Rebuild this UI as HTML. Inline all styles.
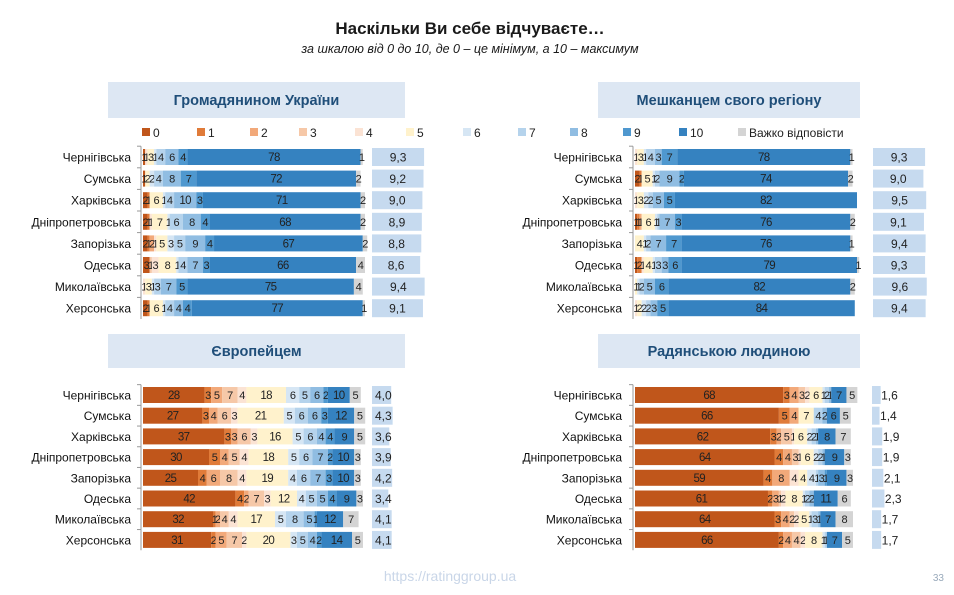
<!DOCTYPE html>
<html><head><meta charset="utf-8">
<style>
body{margin:0;background:#fff;width:954px;height:595px;overflow:hidden;position:relative;font-family:"Liberation Sans","DejaVu Sans",sans-serif;}
svg{position:absolute;left:0;top:0}
</style></head>
<body>
<svg id="chart" width="954" height="595">
<text x="470" y="34" text-anchor="middle" font-size="17" font-weight="bold" fill="#1a1a1a">Наскільки Ви себе відчуваєте…</text>
<text x="470" y="53" text-anchor="middle" font-size="12.5" font-style="italic" fill="#1a1a1a">за шкалою від 0 до 10, де 0 – це мінімум, а 10 – максимум</text>
<g id="legend"></g>
<text x="450" y="581" text-anchor="middle" font-size="14" fill="#c9d6e8">https://ratinggroup.ua</text>
<text x="944" y="581" text-anchor="end" font-size="10" fill="#9ab">33</text>
</svg>
<script>
const regions=["Чернігівська","Сумська","Харківська","Дніпропетровська","Запорізька","Одеська","Миколаївська","Херсонська"];
const legendLabels=["0","1","2","3","4","5","6","7","8","9","10","Важко відповісти"];
const citizen=[[1,0,0,0,1,3,1,4,6,4,78,1],[1,0,0,0,0,2,2,4,8,7,72,2],[2,1,0,0,0,6,1,4,10,3,71,2],[2,1,0,0,1,7,1,6,8,4,68,2],[2,1,2,0,1,5,3,5,9,4,67,2],[3,0,0,1,3,8,1,4,7,3,66,4],[0,0,0,0,1,3,1,3,7,5,75,4],[2,1,0,0,0,6,1,4,4,4,77,1]];
const citizenMean=[9.3,9.2,9.0,8.9,8.8,8.6,9.4,9.1];
const resident=[[0,0,0,0,1,3,1,4,3,7,78,1],[2,1,0,0,0,5,1,2,9,2,74,2],[0,0,0,0,1,3,2,2,5,5,82,0],[1,1,1,0,0,6,1,1,7,3,76,2],[0,0,0,0,0,4,1,2,7,7,76,1],[1,2,0,0,1,4,1,3,3,6,79,1],[0,0,0,0,0,1,1,2,5,6,82,2],[0,0,0,0,1,2,2,2,3,5,84,0]];
const residentMean=[9.3,9.0,9.5,9.1,9.4,9.3,9.6,9.4];
const european=[[28,3,5,7,4,18,6,5,6,2,10,5],[27,3,4,6,3,21,5,6,6,3,12,5],[37,3,3,6,3,16,5,6,4,4,9,5],[30,5,4,5,4,18,5,6,7,2,10,3],[25,4,6,8,4,19,4,6,7,3,10,3],[42,4,2,7,3,12,4,5,5,4,9,3],[32,1,2,4,4,17,5,8,5,1,12,7],[31,2,5,7,2,20,3,5,4,2,14,5]];
const europeanMean=[4.0,4.3,3.6,3.9,4.2,3.4,4.1,4.1];
const soviet=[[68,3,4,3,2,6,1,2,1,0,7,5],[66,5,4,0,0,7,0,4,2,0,6,5],[62,3,2,5,1,6,2,2,1,0,8,7],[64,4,4,3,1,6,2,2,1,0,9,3],[59,4,8,0,4,4,4,1,3,1,9,3],[61,2,3,1,2,8,1,2,2,0,11,6],[64,3,4,2,2,5,1,3,1,0,7,8],[66,2,4,4,2,8,1,1,0,0,7,5]];
const sovietMean=[1.6,1.4,1.9,1.9,2.1,2.3,1.7,1.7];

const colors=["#c0561b","#e07b39","#f2a97a","#f6c8a8","#fbe3d4","#fff2cc","#d6e6f4","#b5d3ec","#90bde2","#4f98cf","#3582c0","#d4d4d4"];
const svg=document.getElementById('chart');
const NS="http://www.w3.org/2000/svg";
function mk(tag,attrs,parent){const e=document.createElementNS(NS,tag);for(const k in attrs)e.setAttribute(k,attrs[k]);(parent||svg).appendChild(e);return e;}

const legX=[142,197,250,299,355,406,463,518,570,623,679,738];
const lg=document.getElementById('legend');
legendLabels.forEach((l,i)=>{
  const r=mk('rect',{x:legX[i],y:128,width:8,height:8,fill:colors[i]},lg);
  
  
  const t=mk('text',{x:legX[i]+11,y:137,'font-size':12,fill:'#222'},lg);
  t.textContent=l;
  
  
});

const panels=[
 {title:"Громадянином України",data:citizen,mean:citizenMean,box:[108,82,297,36],lx:131,bx:143,bw:222,y0:157,step:21.6,bh:16,mx:372,ms:5.6,name:'citizen'},
 {title:"Мешканцем свого регіону",data:resident,mean:residentMean,box:[598,82,262,36],lx:622,bx:635,bw:222,y0:157,step:21.6,bh:16,mx:873,ms:5.6,name:'resident'},
 {title:"Європейцем",data:european,mean:europeanMean,box:[108,334,297,34],lx:131,bx:143,bw:220,y0:395,step:20.7,bh:16,mx:372,ms:4.8,name:'european'},
 {title:"Радянською людиною",data:soviet,mean:sovietMean,box:[598,334,262,34],lx:622,bx:635,bw:218,y0:395,step:20.7,bh:16,mx:872,ms:5.4,name:'soviet'}
];
panels.forEach(p=>{
  const g=mk('g',{});
  
  
  const hb=mk('rect',{x:p.box[0],y:p.box[1],width:p.box[2],height:p.box[3],fill:'#dde7f3'},g);
  
  
  const ht=mk('text',{x:p.box[0]+p.box[2]/2,y:p.box[1]+p.box[3]/2+5,'text-anchor':'middle','font-size':14.5,'font-weight':'bold',fill:'#1f4e79'},g);
  ht.textContent=p.title;
  
  
  const n=regions.length;
  const axis=mk('line',{x1:p.bx-2,x2:p.bx-2,y1:p.y0-p.step/2,y2:p.y0+(n-0.5)*p.step,stroke:'#999','stroke-width':1},g);
  
  
  const xs=v=>v/100*p.bw;
  regions.forEach((reg,ri)=>{
    const cy=p.y0+ri*p.step;
    const tk=mk('line',{x1:p.bx-6,x2:p.bx-2,y1:cy-p.step/2,y2:cy-p.step/2,stroke:'#999'},g);
    
    
    const lt=mk('text',{x:p.lx,y:cy+4.5,'text-anchor':'end','font-size':12,fill:'#111'},g);
    lt.textContent=reg;
    
    
    let x=p.bx;
    p.data[ri].forEach((v,ci)=>{
      if(v<=0)return;
      const w=xs(v);
      const r=mk('rect',{x:x,y:cy-p.bh/2,width:w,height:p.bh,fill:colors[ci]},g);
      
      
      const t=mk('text',{x:x+w/2,y:cy+4,'text-anchor':'middle','font-size':v>=10?11.5:11,fill:'#222','letter-spacing':'-0.6'},g);
      t.textContent=v;
      
      
      x+=w;
    });
    const m=p.mean[ri];
    const w=m*p.ms;
    const mb=mk('rect',{x:p.mx,y:cy-9,width:w,height:18,fill:'#c6daef'},g);
    
    
    const big=w>30;
    const mt=mk('text',{x:big?p.mx+w/2:(w<15?p.mx+w+0.5:p.mx+3),y:cy+4.5,'text-anchor':big?'middle':'start','font-size':12,fill:'#222'},g);
    mt.textContent=m.toFixed(1).replace('.',',');
    
    
  });
});
</script>
</body></html>
